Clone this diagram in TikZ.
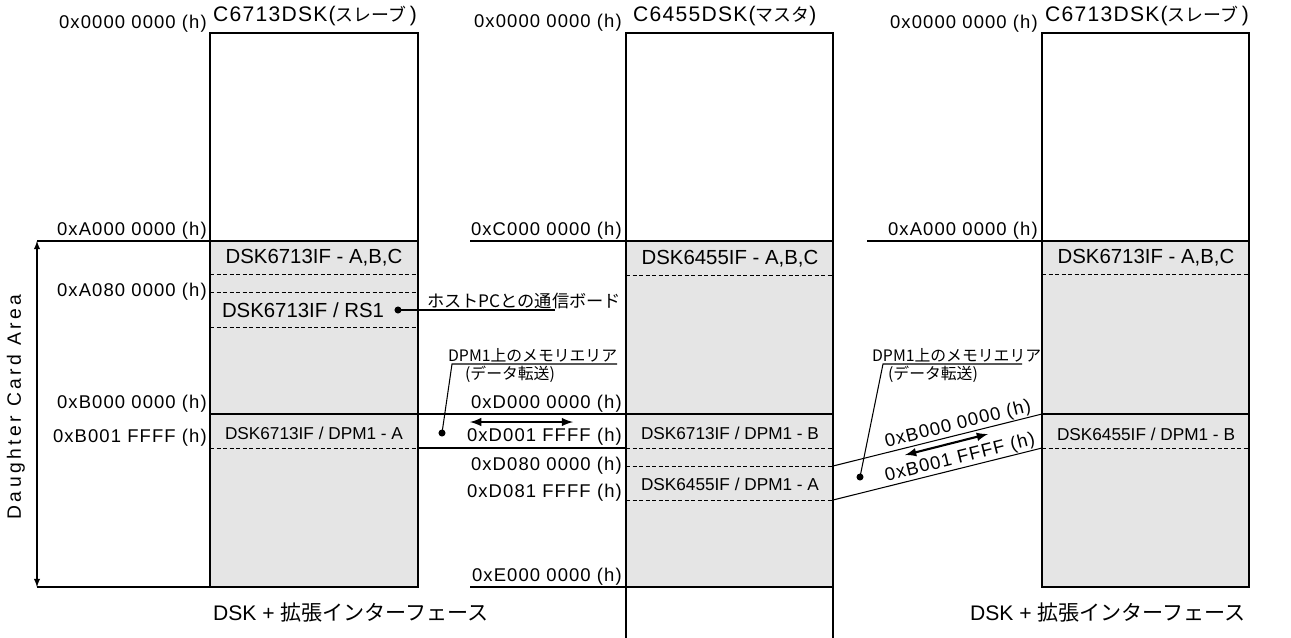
\documentclass[tikz,border=0pt]{standalone}
\usepackage{fontspec}
\setmainfont{Liberation Sans}
\newfontfamily\widefont[LetterSpace=6]{Liberation Sans}
\newfontfamily\sidefont[LetterSpace=18]{Liberation Sans}
\newfontfamily\jpfont{Noto Sans CJK JP}
\newcommand{\ja}[1]{{\jpfont #1}}
\newcommand{\jt}[1]{{\jpfont\fontsize{10.2}{12}\selectfont #1}}
\usepackage{tikz}

\tikzset{
	boxline/.style={draw=black, line width=1pt},
	solidline/.style={draw=black, line width=0.6pt},
	sepline/.style={draw=black, line width=0.5pt, dash pattern=on 2.3pt off 1.4pt},
	xfer/.style={draw=black, <->, >=latex, line width=1.2pt},
	addrlabel/.style={black, inner sep=0.5pt, font=\widefont\fontsize{10.5}{12}\selectfont},
	arealabel/.style={black, inner sep=1pt, font=\fontsize{11.6}{13}\selectfont},
	dpmlabel/.style={black, inner sep=1pt, font=\fontsize{9.8}{11}\selectfont},
	chiptitle/.style={black, inner sep=1pt, font=\widefont\fontsize{12}{14}\selectfont},
	jnote/.style={black, inner sep=1pt, font=\jpfont\fontsize{9}{10}\selectfont},
	bottomlabel/.style={black, inner sep=1pt, font=\fontsize{12}{14}\selectfont},
}

\begin{document}
\begin{tikzpicture}[x=0.02cm, y=-0.02cm]
	\useasboundingbox (0,0) rectangle (1291,637);
	\fill[black!10] (210,241) rectangle (418,587);
	\fill[black!10] (626,241) rectangle (833,587);
	\fill[black!10] (1042,241) rectangle (1249,587);
	\draw[boxline] (210,33) rectangle (418,587);
	\draw[boxline] (626,640) -- (626,33) -- (833,33) -- (833,640);
	\draw[boxline] (1042,33) rectangle (1249,587);
	\draw[boxline] (210,241) -- (418,241);
	\draw[boxline] (626,241) -- (833,241);
	\draw[boxline] (626,587) -- (833,587);
	\draw[boxline] (1042,241) -- (1249,241);
	\draw[solidline] (37,241) -- (210,241);
	\draw[solidline] (37,587) -- (210,587);
	\draw[solidline] (470,241) -- (626,241);
	\draw[solidline] (470,587) -- (626,587);
	\draw[solidline] (867,241) -- (1042,241);
	\draw[solidline] (210,414) -- (626,414);
	\draw[solidline] (418,448) -- (626,448);
	\draw[solidline] (626,414) -- (833,414);
	\draw[solidline] (1042,414) -- (1249,414);
	\draw[sepline] (210,274) -- (418,274);
	\draw[sepline] (210,292) -- (418,292);
	\draw[sepline] (210,327) -- (418,327);
	\draw[sepline] (210,448) -- (418,448);
	\draw[sepline] (626,275) -- (833,275);
	\draw[sepline] (626,448) -- (833,448);
	\draw[sepline] (626,466) -- (833,466);
	\draw[sepline] (626,500) -- (833,500);
	\draw[sepline] (1042,274) -- (1249,274);
	\draw[sepline] (1042,448) -- (1249,448);
	\draw[solidline, <->, >=latex] (37,241) -- (37,587);
	\node[black, rotate=90, inner sep=1pt, font=\sidefont\fontsize{11}{13}\selectfont] (dca) at (16,407) {Daughter Card Area};
	\node[chiptitle, anchor=west] (slave1) at (211,16) {C6713DSK(\jt{スレーブ}\,)};
	\node[chiptitle, anchor=west] (master) at (631,16) {C6455DSK(\jt{マスタ})};
	\node[chiptitle, anchor=west] (slave2) at (1043,16) {C6713DSK(\jt{スレーブ}\,)};
	\node[addrlabel, anchor=south east] (la0000) at (208,34) {0x0000 0000 (h)};
	\node[addrlabel, anchor=south east] (laA000) at (208,241) {0xA000 0000 (h)};
	\node[addrlabel, anchor=south east] (laA080) at (208,302) {0xA080 0000 (h)};
	\node[addrlabel, anchor=south east] (laB000) at (208,414) {0xB000 0000 (h)};
	\node[addrlabel, anchor=south east] (laB001) at (208,448) {0xB001 FFFF (h)};
	\node[addrlabel, anchor=south east] (ma0000) at (623,33) {0x0000 0000 (h)};
	\node[addrlabel, anchor=south east] (maC000) at (623,241) {0xC000 0000 (h)};
	\node[addrlabel, anchor=south east] (maD000) at (623,414) {0xD000 0000 (h)};
	\node[addrlabel, anchor=south east] (maD001) at (623,447) {0xD001 FFFF (h)};
	\node[addrlabel, anchor=south east] (maD080) at (623,476) {0xD080 0000 (h)};
	\node[addrlabel, anchor=south east] (maD081) at (623,503) {0xD081 FFFF (h)};
	\node[addrlabel, anchor=south east] (maE000) at (623,587) {0xE000 0000 (h)};
	\node[addrlabel, anchor=south east] (ra0000) at (1039,34) {0x0000 0000 (h)};
	\node[addrlabel, anchor=south east] (raA000) at (1039,241) {0xA000 0000 (h)};
	\node[arealabel] (lifabc) at (314,258) {DSK6713IF - A,B,C};
	\node[arealabel] (lrs1) at (303,310) {DSK6713IF / RS1};
	\node[dpmlabel] (ldpma) at (314,433) {DSK6713IF / DPM1 - A};
	\node[arealabel] (mifabc) at (730,259) {DSK6455IF - A,B,C};
	\node[dpmlabel] (mdpmb) at (730,433) {DSK6713IF / DPM1 - B};
	\node[dpmlabel] (mdpma) at (730,484) {DSK6455IF / DPM1 - A};
	\node[arealabel] (rifabc) at (1146,258) {DSK6713IF - A,B,C};
	\node[dpmlabel] (rdpmb) at (1146,434) {DSK6455IF / DPM1 - B};
	\coordinate (mA) at (833,466);
	\coordinate (mB) at (833,500);
	\coordinate (rB0) at (1042,414);
	\coordinate (rB1) at (1042,448);
	\draw[solidline] (mA) -- (rB0) node[addrlabel, pos=0.61, sloped, above] (rbB000) {0xB000 0000 (h)};
	\draw[solidline] (mB) -- (rB1) node[addrlabel, pos=0.62, sloped, above] (rbB001) {0xB001 FFFF (h)};
	\coordinate (rsdot) at (398,310);
	\coordinate (hostend) at (555,310);
	\node[jnote, anchor=south west, font=\jpfont\fontsize{9.8}{11}\selectfont] (hostnote) at (425,311) {ホストPCとの通信ボード};
	\fill[black] (rsdot) circle (2pt);
	\draw[solidline] (rsdot) -- (hostend);
	\coordinate (ldot) at (442,433);
	\coordinate (lbend) at (452,364);
	\coordinate (lend) at (617,364);
	\node[jnote, anchor=south west] (lnote) at (446,364) {DPM1上のメモリエリア};
	\node[jnote, anchor=north west] (lnote2) at (463,364) {(データ転送)};
	\fill[black] (ldot) circle (2pt);
	\draw[solidline] (ldot) -- (lbend) -- (lend);
	\coordinate (lxa) at (470,422);
	\coordinate (lxb) at (573,422);
	\draw[xfer] (lxa) -- (lxb);
	\coordinate (rdot) at (860,477);
	\coordinate (rbend) at (883,364);
	\coordinate (rend) at (1022,364);
	\node[jnote, anchor=south west] (rnote) at (870,364) {DPM1上のメモリエリア};
	\node[jnote, anchor=north west] (rnote2) at (886,364) {(データ転送)};
	\fill[black] (rdot) circle (2pt);
	\draw[solidline] (rdot) -- (rbend) -- (rend);
	\coordinate (rxa) at (905,455);
	\coordinate (rxb) at (988,434);
	\draw[xfer] (rxa) -- (rxb);
	\node[bottomlabel, anchor=west] (lbottom) at (211,612) {DSK + \ja{拡張インターフェース}};
	\node[bottomlabel, anchor=west] (rbottom) at (968,612) {DSK + \ja{拡張インターフェース}};
\end{tikzpicture}
\end{document}
